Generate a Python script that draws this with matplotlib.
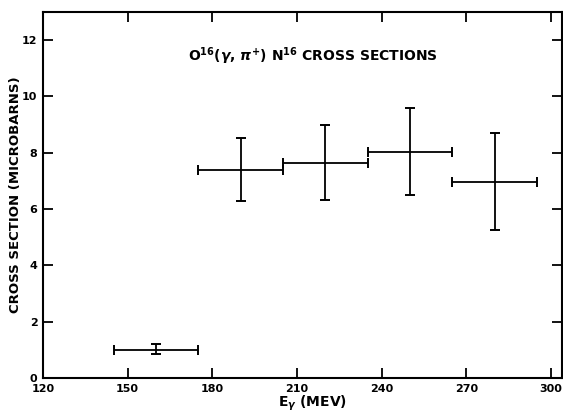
import numpy as np
import matplotlib.pyplot as plt

# O16(gamma, pi+)N16 cross sections
energy = [160, 190, 220, 250, 280]
bin_lo = [145, 175, 205, 235, 265]
bin_hi = [175, 205, 235, 265, 295]
sigma = [1.0, 7.4, 7.62, 8.02, 6.96]
sigma_lo = [0.85, 6.28, 6.33, 6.51, 5.25]
sigma_hi = [1.2, 8.54, 8.97, 9.6, 8.69]

xticks = [120, 150, 180, 210, 240, 270, 300]
yticks = [0, 2, 4, 6, 8, 10, 12]

plt.rcParams['font.family'] = ['DejaVu Sans']
plt.rcParams['font.weight'] = 'bold'

fig = plt.figure(figsize=(5.63, 4.12), dpi=100)
ax = fig.add_axes([43 / 563, 34 / 412, 518.5 / 563, 366 / 412])

x = np.array(energy)
y = np.array(sigma)
xerr = [x - np.array(bin_lo), np.array(bin_hi) - x]
yerr = [y - np.array(sigma_lo), np.array(sigma_hi) - y]

ax.errorbar(x, y, xerr=xerr, yerr=yerr, fmt='none', ecolor='black',
            elinewidth=1.3, capsize=3.5, capthick=1.4)

ax.set_xlim(120, 303.7)
ax.set_ylim(0, 13)
ax.set_xticks(xticks)
ax.set_yticks(yticks)
ax.set_xticklabels([str(t) for t in xticks], fontsize=8, fontweight='bold')
ax.set_yticklabels([str(t) for t in yticks], fontsize=8, fontweight='bold')
ax.tick_params(direction='in', length=7, width=1.3, top=True, right=True)
ax.tick_params(axis='x', pad=4)
ax.tick_params(axis='y', pad=4)
for s in ax.spines.values():
    s.set_linewidth(1.5)

ax.set_xlabel(r'E$_\gamma$ (MEV)', fontsize=10, fontweight='bold')
ax.xaxis.set_label_coords(0.519, -0.043)
ax.set_ylabel('CROSS SECTION (MICROBARNS)', fontsize=9.5, fontweight='bold',
              labelpad=0)

ax.text(0.28, 0.88, r'O$^{16}$($\gamma$, $\pi^{+}$) N$^{16}$ CROSS SECTIONS',
        transform=ax.transAxes, fontsize=10, fontweight='bold',
        ha='left', va='center')

fig.savefig('out.png', dpi=100)
